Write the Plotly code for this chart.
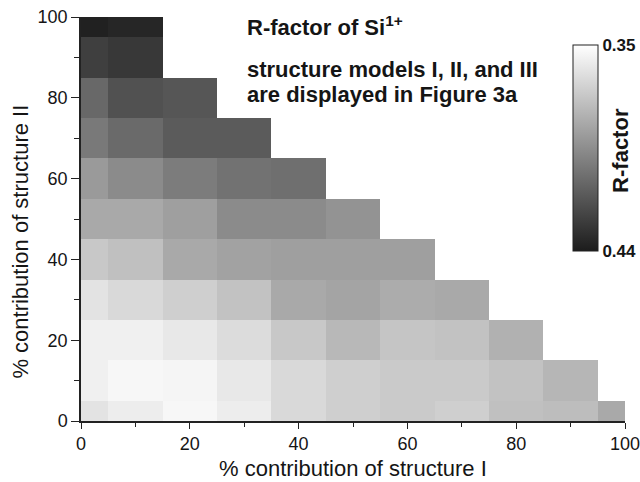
import plotly.graph_objects as go

# Grid of contributions (%)
x_centers = [0, 10, 20, 30, 40, 50, 60, 70, 80, 90, 100]   # structure I
y_centers = [0, 10, 20, 30, 40, 50, 60, 70, 80, 90, 100]   # structure II

# R-factor values, one list per row of structure II contribution (x from 0 upwards)
r_y0 = [0.361, 0.357, 0.353, 0.357, 0.365, 0.369, 0.371, 0.369, 0.375, 0.376, 0.384]
r_y10 = [0.356, 0.353, 0.354, 0.359, 0.365, 0.369, 0.371, 0.371, 0.374, 0.379]
r_y20 = [0.356, 0.356, 0.359, 0.364, 0.372, 0.378, 0.373, 0.374, 0.381]
r_y30 = [0.361, 0.365, 0.369, 0.374, 0.384, 0.386, 0.383, 0.384]
r_y40 = [0.372, 0.375, 0.384, 0.387, 0.388, 0.388, 0.388]
r_y50 = [0.384, 0.384, 0.388, 0.396, 0.396, 0.393]
r_y60 = [0.390, 0.396, 0.402, 0.406, 0.407]
r_y70 = [0.403, 0.409, 0.415, 0.415]
r_y80 = [0.410, 0.419, 0.417]
r_y90 = [0.426, 0.429]
r_y100 = [0.438, 0.436]

rows = [r_y0, r_y10, r_y20, r_y30, r_y40, r_y50, r_y60, r_y70, r_y80, r_y90, r_y100]

r_min, r_max = 0.35, 0.44
cbar_ticks = [0.35, 0.44]
axis_ticks = [0, 20, 40, 60, 80, 100]
axis_minor = [10, 30, 50, 70, 90]

# Cell edges: centred on grid values, clipped to the grid range
def edges(c):
    return [c[0]] + [(a + b) / 2 for a, b in zip(c[:-1], c[1:])] + [c[-1]]

x_edges = edges(x_centers)
y_edges = edges(y_centers)

# Negate so that 0.35 (white) sits at the top of the colour bar
z = []
text = []
for row in rows:
    pad = len(x_centers) - len(row)
    z.append([-v for v in row] + [None] * pad)
    text.append([f"{v:.3f}" for v in row] + [""] * pad)

font_family = "Liberation Sans, Arial, sans-serif"
ink = "#151515"

fig = go.Figure(
    go.Heatmap(
        x=x_edges,
        y=y_edges,
        z=z,
        text=text,
        hovertemplate="I: %{x}<br>II: %{y}<br>R: %{text}<extra></extra>",
        zmin=-r_max,
        zmax=-r_min,
        colorscale=[[0, "rgb(28,28,28)"], [1, "rgb(255,255,255)"]],
        zsmooth=False,
        colorbar=dict(
            x=0.9045, xanchor="left", xpad=0,
            y=0.9307, yanchor="top", ypad=0,
            len=206, lenmode="pixels",
            thickness=25, thicknessmode="pixels",
            outlinewidth=1, outlinecolor="#222",
            tickvals=[-v for v in cbar_ticks],
            ticktext=[f"{v:.2f}" for v in cbar_ticks],
            ticks="", ticklen=0,
            tickfont=dict(family=font_family, size=17, color=ink, weight="bold"),
        ),
    )
)

# Colour-bar title
fig.add_annotation(
    xref="paper", yref="paper", x=0.9926, y=0.671,
    xanchor="center", yanchor="middle", showarrow=False, textangle=-90,
    text="<b>R-factor</b>",
    font=dict(family=font_family, size=22, color=ink),
)

# In-plot captions
fig.add_annotation(
    xref="paper", yref="paper", x=0.3015, y=0.978,
    xanchor="left", yanchor="middle", showarrow=False,
    text="<b>R-factor of Si<sup>1+</sup></b>",
    font=dict(family=font_family, size=22, color=ink),
)
fig.add_annotation(
    xref="paper", yref="paper", x=0.3015, y=0.871,
    xanchor="left", yanchor="middle", showarrow=False,
    text="<b>structure models I, II, and III</b>",
    font=dict(family=font_family, size=22, color=ink),
)
fig.add_annotation(
    xref="paper", yref="paper", x=0.3015, y=0.809,
    xanchor="left", yanchor="middle", showarrow=False,
    text="<b>are displayed in Figure 3a</b>",
    font=dict(family=font_family, size=22, color=ink),
)

# Axis titles
fig.add_annotation(
    xref="paper", yref="paper", x=0.5, y=-0.1188,
    xanchor="center", yanchor="middle", showarrow=False,
    text="% contribution of structure I",
    font=dict(family=font_family, size=22, color=ink),
)
fig.add_annotation(
    xref="paper", yref="paper", x=-0.1103, y=0.444,
    xanchor="center", yanchor="middle", showarrow=False, textangle=-90,
    text="% contribution of structure II",
    font=dict(family=font_family, size=22, color=ink),
)

axis_common = dict(
    range=[0, 100],
    showgrid=False, zeroline=False,
    showline=True, linecolor="#222", linewidth=1.5,
    ticks="outside", tickwidth=1.3, tickcolor="#222",
    tickvals=axis_ticks,
    tickfont=dict(family=font_family, size=18, color=ink),
    ticklabeloverflow="allow",
    mirror=False, automargin=False,
)

fig.update_xaxes(
    **axis_common, ticklen=6,
    minor=dict(ticks="outside", ticklen=4, tickwidth=1.3, tickcolor="#222",
               tickvals=axis_minor),
)
fig.update_yaxes(
    **axis_common, ticklen=8,
    minor=dict(ticks="outside", ticklen=5, tickwidth=1.3, tickcolor="#222",
               tickvals=axis_minor),
)

fig.update_layout(
    width=640, height=482,
    margin=dict(l=81, r=15, t=17, b=61, autoexpand=False),
    paper_bgcolor="white", plot_bgcolor="white",
    showlegend=False,
)

fig.write_html(
    "out.html",
    config={"displayModeBar": False},
    post_script="document.body.style.margin='0';document.body.style.padding='0';",
)
